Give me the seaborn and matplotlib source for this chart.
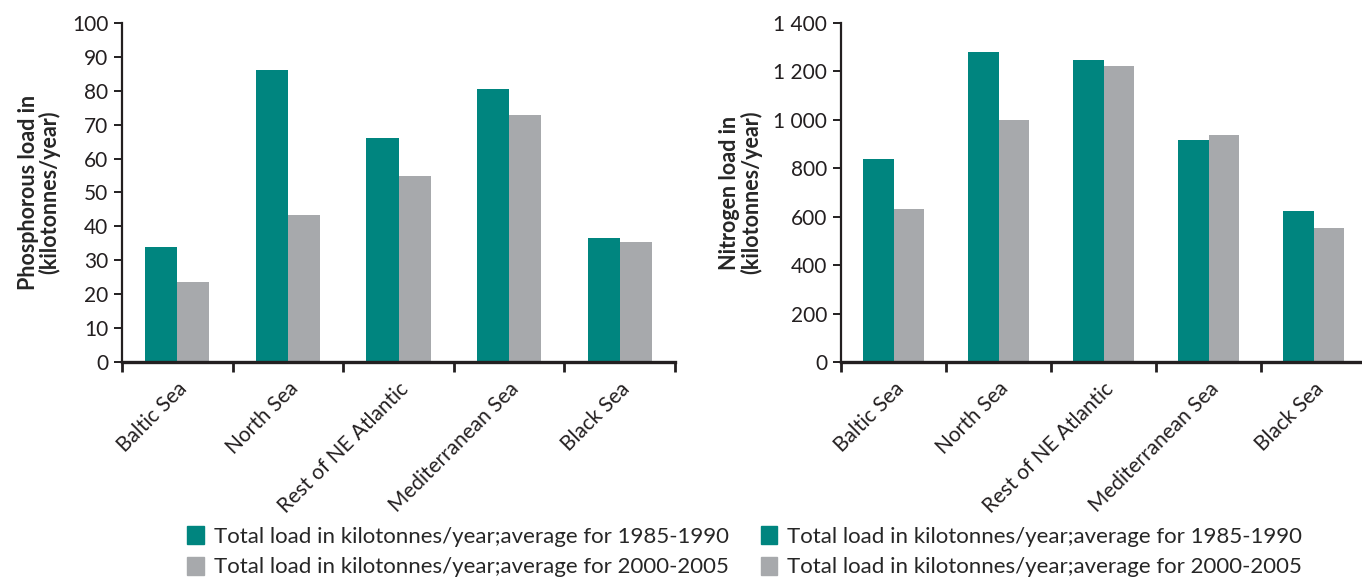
import pandas as pd
import seaborn as sns
import matplotlib.pyplot as plt
from matplotlib.ticker import FuncFormatter

# Data
seas = ['Baltic Sea', 'North Sea', 'Rest of NE Atlantic', 'Mediterranean Sea', 'Black Sea']
periods = ['Total load in kilotonnes/year;average for 1985-1990',
           'Total load in kilotonnes/year;average for 2000-2005']
phos_1985 = [34, 86, 66, 80.5, 36.7]
phos_2000 = [23.5, 43.5, 55, 73, 35.5]
nitro_1985 = [840, 1280, 1248, 915, 622]
nitro_2000 = [630, 1000, 1222, 937, 552]

teal = '#00857f'
grey = '#a7a9ac'

sns.set_style('white')
plt.rcParams['font.family'] = ['Lato', 'DejaVu Sans']

phos = pd.DataFrame({'sea': seas * 2,
                     'period': [periods[0]] * 5 + [periods[1]] * 5,
                     'value': phos_1985 + phos_2000})
nitro = pd.DataFrame({'sea': seas * 2,
                      'period': [periods[0]] * 5 + [periods[1]] * 5,
                      'value': nitro_1985 + nitro_2000})

fig = plt.figure(figsize=(13.62, 5.82), dpi=100)
ax1 = fig.add_axes([0.0896, 0.378, 0.406, 0.5825])
ax2 = fig.add_axes([0.6175, 0.378, 0.3855, 0.5825])


def draw(ax, df, ymax, step, ylabel, fmt):
    sns.barplot(data=df, x='sea', y='value', hue='period', order=seas,
                hue_order=periods, palette=[teal, grey], width=0.58,
                saturation=1, legend=False, linewidth=0, ax=ax)
    ax.set_xlim(-0.5, 4.5)
    ax.set_ylim(0, ymax)
    ax.set_yticks(range(0, ymax + 1, step))
    ax.yaxis.set_major_formatter(FuncFormatter(fmt))
    ax.set_xlabel('')
    ax.set_ylabel(ylabel, fontsize=15.5, fontweight='bold',
                  linespacing=1.0, labelpad=8)
    for s in ['top', 'right']:
        ax.spines[s].set_visible(False)
    ax.spines['left'].set_linewidth(1.6)
    ax.spines['bottom'].set_linewidth(2.4)
    ax.spines['left'].set_color('#231f20')
    ax.spines['bottom'].set_color('#231f20')
    ax.tick_params(axis='y', direction='out', length=6, width=1.4, left=True,
                   labelsize=15, pad=4, colors='#231f20')
    ax.set_xticks(range(5))
    ax.set_xticklabels(seas, rotation=45, ha='right', rotation_mode='anchor',
                       fontsize=15, color='#231f20')
    ax.tick_params(axis='x', which='major', length=0, pad=12)
    ax.set_xticks([i - 0.5 for i in range(6)], minor=True)
    ax.tick_params(axis='x', which='minor', direction='out', length=7,
                   width=2, bottom=True, color='#231f20')


draw(ax1, phos, 100, 10, 'Phosphorous load in\n(kilotonnes/year)',
     lambda v, p: f'{int(v)}')
draw(ax2, nitro, 1400, 200, 'Nitrogen load in\n(kilotonnes/year)',
     lambda v, p: f'{int(v):,}'.replace(',', ' '))

handles = [plt.Rectangle((0, 0), 1, 1, color=teal),
           plt.Rectangle((0, 0), 1, 1, color=grey)]
for x in [0.131, 0.552]:
    fig.legend(handles, periods, loc='upper left', bbox_to_anchor=(x, 0.112),
               frameon=False, fontsize=16, handlelength=0.75, handleheight=0.9,
               handletextpad=0.45, labelspacing=0.45, borderaxespad=0)

fig.savefig('out.png', dpi=100)
